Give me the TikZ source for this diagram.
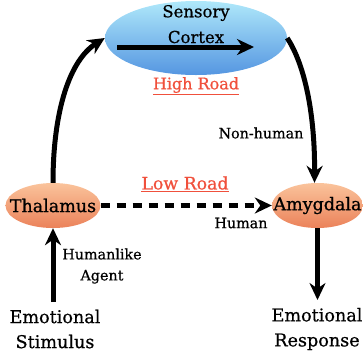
\documentclass[tikz,border=0pt]{standalone}
\usepackage{fontspec}
\setmainfont{DejaVu Serif}[FakeBold=0.7]
\usetikzlibrary{arrows.meta,shapes.geometric}
\definecolor{roadred}{RGB}{240,80,60}
\definecolor{ctop}{RGB}{175,232,250}
\definecolor{cbot}{RGB}{85,150,225}
\definecolor{otop}{RGB}{250,195,155}
\definecolor{obot}{RGB}{235,130,90}
\begin{document}
\begin{tikzpicture}[x=1pt,y=-1pt,
  cortex/.style={ellipse,minimum width=182pt,minimum height=74pt,inner sep=0pt,top color=ctop,bottom color=cbot,draw=none},
  orangenode/.style={ellipse,minimum height=45pt,inner sep=0pt,top color=otop,bottom color=obot,draw=none},
  nodetext/.style={font=\fontsize{17.5}{19}\selectfont,inner sep=0pt},
  arr/.style={line width=5pt,-{Stealth[length=17pt,width=16pt]}},
  small/.style={font=\fontsize{14.3}{21}\selectfont},
  big/.style={font=\fontsize{17.6}{25}\selectfont,align=center},
  ctxtext/.style={font=\fontsize{16.5}{18}\selectfont}]
\useasboundingbox (0,0) rectangle (363,360);
\node[cortex] (ctx) at (196,38) {};
\node[ctxtext] (ctxs) at (196,13) {Sensory};
\node[ctxtext] (ctxc) at (196,37) {Cortex};
\coordinate (cin) at (117,47);
\coordinate (cout) at (254,47);
\draw[arr] (cin) -- (cout);
\node[text=roadred,font=\fontsize{16}{17}\selectfont] (hr) at (196,86) {\underline{High Road}};
\node[orangenode,minimum width=95pt] (th) at (53,205.5) {};
\node[nodetext] (thl) at (th.center) {Thalamus};
\node[orangenode,minimum width=91pt] (am) at (317.5,205.5) {};
\node[nodetext] (aml) at (am.center) {Amygdala};
\node[text=roadred,font=\fontsize{17.3}{18}\selectfont] (lr) at (185,184) {\underline{Low Road}};
\draw[line width=4.5pt,dash pattern=on 9pt off 7pt,-{Stealth[length=17pt,width=16pt]}] (th.east) -- (am.west);
\node[small] (hum) at (241,223) {Human};
\node[small] (nh) at (261,133) {Non-human};
\draw[arr] (th.north) .. controls (53,110) and (70,60) .. (ctx.west);
\draw[arr] (ctx.east) .. controls (305,65) and (315,115) .. ([xshift=-3pt]am.north);
\node[big] (st) at (55,329) {Emotional\\Stimulus};
\node[big] (re) at (317,329) {Emotional\\Response};
\draw[arr] (53,302) -- (th.south);
\draw[arr] (am.south) -- (317.5,300);
\node[small,align=center] (ha) at (102,266) {Humanlike\\Agent};
\end{tikzpicture}
\end{document}
